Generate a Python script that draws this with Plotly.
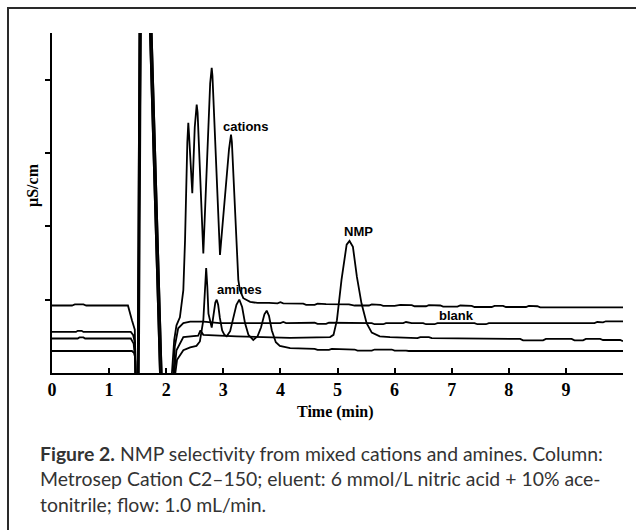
import plotly.graph_objects as go

# ---------------- data (time in min, signal in arbitrary µS/cm units) ----------------
cations_t = [0.00, 0.35, 0.40, 0.55, 0.60, 1.00, 1.33, 1.40, 1.45, 1.47, 1.50, 1.535, 1.70, 1.90, 2.05,
             2.10, 2.14, 2.18, 2.24, 2.30, 2.33, 2.37, 2.387, 2.40, 2.457, 2.50, 2.52, 2.534, 2.55,
             2.65, 2.77, 2.785, 2.797, 2.81, 2.942, 3.10, 3.125, 3.135, 3.15, 3.263, 3.29, 3.35,
             3.47, 3.60, 3.80, 3.95, 4.00, 4.05, 4.40, 4.45, 4.60, 4.65, 4.80, 5.00, 5.20, 5.30,
             5.55, 5.60, 5.75, 5.80, 6.00, 6.10, 6.30, 6.35, 6.55, 6.60, 6.80, 6.85, 7.10, 7.15,
             7.35, 7.40, 7.70, 7.75, 7.90, 7.95, 8.30, 8.35, 8.50, 8.55, 10.00]
cations_v = [0.92, 0.92, 0.935, 0.935, 0.92, 0.92, 0.92, 0.72, 0.59, -0.30, -0.30, 5.20, 5.05, -0.26, -0.30,
             0.00, 0.45, 0.65, 0.76, 1.13, 1.81, 3.15, 3.41, 3.25, 2.45, 3.35, 3.60, 3.66, 3.55,
             1.63, 3.95, 4.12, 4.16, 4.05, 1.61, 3.05, 3.22, 3.25, 3.15, 1.27, 1.13, 1.02,
             0.97, 0.955, 0.955, 0.95, 0.965, 0.95, 0.945, 0.93, 0.93, 0.945, 0.94, 0.935, 0.935, 0.92,
             0.92, 0.935, 0.93, 0.915, 0.915, 0.93, 0.925, 0.91, 0.91, 0.925, 0.92, 0.905, 0.905, 0.92,
             0.915, 0.90, 0.90, 0.915, 0.915, 0.90, 0.90, 0.915, 0.91, 0.895, 0.895]

blank_t = [0.00, 0.42, 0.45, 0.52, 0.55, 1.38, 1.42, 1.455, 1.47, 1.50, 1.535, 1.70, 1.90, 2.08,
           2.13, 2.15, 2.21, 2.30, 2.42, 2.65, 2.94, 3.50, 4.00, 4.05, 4.10, 4.60, 4.65, 4.80,
           4.85, 5.60, 5.65, 5.80, 5.85, 6.15, 6.20, 6.30, 6.50, 6.55, 6.70, 6.75, 7.40, 7.45,
           7.60, 7.65, 9.50, 9.55, 9.65, 9.70, 10.00]
blank_v = [0.56, 0.56, 0.575, 0.575, 0.56, 0.56, 0.52, 0.40, -0.30, -0.30, 5.20, 5.05, -0.26, -0.30,
           0.00, 0.36, 0.61, 0.68, 0.70, 0.70, 0.68, 0.685, 0.68, 0.695, 0.68, 0.685, 0.67, 0.67,
           0.685, 0.68, 0.665, 0.665, 0.68, 0.68, 0.695, 0.68, 0.68, 0.665, 0.665, 0.68, 0.68, 0.665,
           0.665, 0.68, 0.68, 0.695, 0.69, 0.705, 0.705]

nmp_t = [0.00, 0.45, 0.48, 0.55, 0.58, 1.38, 1.43, 1.46, 1.48, 1.52, 1.56, 1.73, 1.93, 2.10,
         2.14, 2.18, 2.30, 2.56, 2.60, 2.65, 3.23, 4.17, 4.87, 4.93, 4.99, 5.07, 5.16, 5.21,
         5.27, 5.34, 5.42, 5.51, 5.60, 5.74, 5.92, 6.40, 6.45, 6.60, 6.65, 6.95, 7.00, 8.20,
         8.25, 8.60, 8.65, 9.10, 9.15, 9.30, 9.35, 9.60, 9.65, 9.95, 10.00]
nmp_v = [0.47, 0.47, 0.485, 0.485, 0.47, 0.47, 0.40, 0.15, -0.30, -0.30, 5.20, 5.05, -0.26, -0.30,
         0.00, 0.31, 0.49, 0.51, 0.58, 0.52, 0.50, 0.48, 0.49, 0.52, 0.72, 1.27, 1.75, 1.80,
         1.72, 1.31, 0.95, 0.68, 0.55, 0.50, 0.49, 0.475, 0.49, 0.49, 0.475, 0.475, 0.465, 0.465,
         0.445, 0.445, 0.465, 0.465, 0.445, 0.445, 0.465, 0.465, 0.45, 0.45, 0.435]

amines_t = [0.00, 1.40, 1.44, 1.455, 1.46, 1.50, 1.56, 1.73, 1.93, 2.12, 2.16, 2.19, 2.30, 2.42,
            2.53, 2.59, 2.65, 2.68, 2.70, 2.72, 2.74, 2.797, 2.83, 2.86, 2.884, 2.91, 2.94, 2.98,
            3.02, 3.06, 3.12, 3.18, 3.23, 3.28, 3.33, 3.38, 3.44, 3.525, 3.60, 3.66, 3.72, 3.76,
            3.80, 3.85, 3.92, 3.99, 4.17, 4.60, 4.65, 4.85, 4.90, 5.30, 5.35, 5.60, 5.65, 5.95,
            6.00, 6.20, 6.25, 10.00]
amines_v = [0.30, 0.30, 0.27, 0.22, -0.30, -0.30, 5.20, 5.05, -0.26, -0.30, 0.00, 0.18, 0.31, 0.35,
            0.37, 0.43, 0.72, 1.20, 1.43, 1.18, 0.81, 0.62, 0.80, 0.96, 1.00, 0.93, 0.75, 0.58,
            0.52, 0.50, 0.57, 0.75, 0.93, 1.00, 0.90, 0.68, 0.52, 0.45, 0.50, 0.62, 0.80, 0.85,
            0.78, 0.58, 0.42, 0.37, 0.34, 0.33, 0.315, 0.315, 0.33, 0.32, 0.305, 0.305, 0.32, 0.32,
            0.305, 0.305, 0.30, 0.30]

peak_labels = ["cations", "amines", "NMP", "blank"]
label_t = [3.40, 3.29, 5.36, 7.09]
label_v = [3.36, 1.14, 1.93, 0.78]

x_tick_vals = [0, 1, 2, 3, 4, 5, 6, 7, 8, 9]
x_tick_text = ["0", "1", "2", "3", "4", "5", "6", "7", "8", "9"]
y_tick_vals = [1, 2, 3, 4]

caption_lines = [
    "<b>Figure 2.</b> NMP selectivity from mixed cations and amines. Column:",
    "Metrosep Cation C2–150; eluent: 6 mmol/L nitric acid + 10% ace-",
    "tonitrile; flow: 1.0 mL/min.",
]

# ---------------- figure ----------------
W, H = 636, 530
L, R, T, B = 52, 13, 33, 157
PW, PH = W - L - R, H - T - B

def px_x(px):
    return (px - L) / PW

def px_y(py):
    return (H - B - py) / PH

fig = go.Figure()
for tt, vv in [(cations_t, cations_v), (blank_t, blank_v), (nmp_t, nmp_v), (amines_t, amines_v)]:
    fig.add_trace(go.Scatter(x=tt, y=vv, mode="lines",
                             line=dict(color="#000000", width=1.8),
                             showlegend=False, hoverinfo="skip"))

annots = []
for txt, tx, ty in zip(peak_labels, label_t, label_v):
    annots.append(dict(x=tx, y=ty, xref="x", yref="y", text=f"<b>{txt}</b>", showarrow=False,
                       font=dict(family="Liberation Sans, Arial", size=13, color="#000"),
                       xanchor="center", yanchor="middle"))

annots.append(dict(x=px_x(335.5), y=px_y(412), xref="paper", yref="paper",
                   text="<b>Time (min)</b>", showarrow=False,
                   font=dict(family="Liberation Serif, Times New Roman", size=16, color="#000"),
                   xanchor="center", yanchor="middle"))
annots.append(dict(x=px_x(33), y=px_y(185), xref="paper", yref="paper",
                   text="<b>µS/cm</b>", showarrow=False, textangle=-90,
                   font=dict(family="Liberation Serif, Times New Roman", size=16, color="#000"),
                   xanchor="center", yanchor="middle"))

cap_centers = [453, 478.5, 504]
for line, cy in zip(caption_lines, cap_centers):
    annots.append(dict(x=px_x(38), y=px_y(cy), xref="paper", yref="paper", text=line,
                       showarrow=False, align="left",
                       font=dict(family="Lato", size=19.4, color="#333333"),
                       xanchor="left", yanchor="middle"))

fig.update_layout(
    width=W, height=H, autosize=False,
    margin=dict(l=L, r=R, t=T, b=B, pad=0),
    paper_bgcolor="white", plot_bgcolor="white",
    annotations=annots,
    shapes=[dict(type="rect", xref="paper", yref="paper",
                 x0=px_x(8), x1=px_x(700), y0=px_y(600), y1=px_y(8),
                 line=dict(color="#2a2a2a", width=2), fillcolor="rgba(0,0,0,0)", layer="below")],
    xaxis=dict(range=[0, 10], showgrid=False, zeroline=False,
               showline=True, linecolor="#000", linewidth=1.6,
               ticks="inside", ticklen=5, tickwidth=1.5, tickcolor="#000",
               tickvals=x_tick_vals, ticktext=x_tick_text,
               tickfont=dict(family="Liberation Serif, Times New Roman", size=18, color="#000", weight="bold")),
    yaxis=dict(range=[0, 4.635], showgrid=False, zeroline=False,
               showline=True, linecolor="#000", linewidth=1.6,
               ticks="outside", ticklen=5, tickwidth=1.5, tickcolor="#000",
               tickvals=y_tick_vals, showticklabels=False),
)

fig.write_html("out.html", config={"displayModeBar": False},
               post_script="document.body.style.margin='0px';document.body.style.overflow='hidden';")
